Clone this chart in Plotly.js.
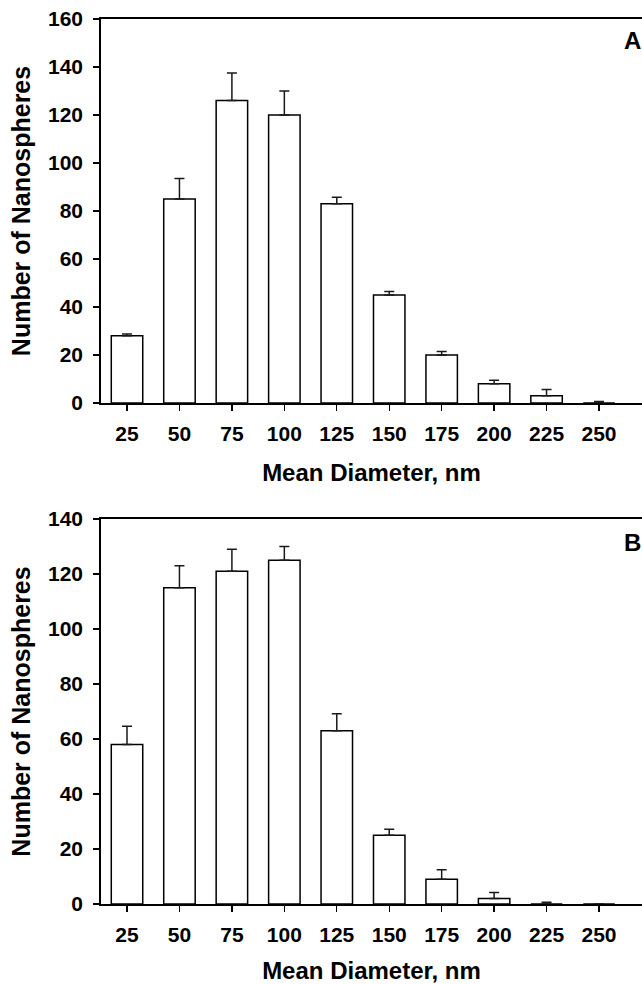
<!DOCTYPE html>
<html>
<head>
<meta charset="utf-8">
<script src="https://cdn.plot.ly/plotly-3.0.1.min.js"></script>
<style>
  html, body { margin: 0; padding: 0; background: #fff; }
  #chart { width: 642px; height: 984px; }
</style>
</head>
<body>
<div id="chart"></div>
<script>
// Data
const diameters = [25, 50, 75, 100, 125, 150, 175, 200, 225, 250];
const tickLabels = ["25", "50", "75", "100", "125", "150", "175", "200", "225", "250"];
const countsA = [28, 85, 126, 120, 83, 45, 20, 8, 3, 0];
const errorsA = [0.8, 8.5, 11.5, 10, 2.7, 1.5, 1.5, 1.5, 2.6, 0.6];
const countsB = [58, 115, 121, 125, 63, 25, 9, 2, 0, 0];
const errorsB = [6.6, 8, 8, 5, 6.2, 2.2, 3.5, 2.2, 0.6, 0];

const FONT = "Liberation Sans, Arial, Helvetica, sans-serif";
const zeros = diameters.map(() => 0);

function barTrace(y, err, xa, ya) {
  return {
    type: "bar",
    x: diameters,
    y: y,
    width: 15,
    xaxis: xa,
    yaxis: ya,
    marker: { color: "#ffffff", line: { color: "#000000", width: 1.5 } },
    error_y: {
      type: "data",
      symmetric: false,
      array: err,
      arrayminus: zeros,
      color: "#1a1a1a",
      thickness: 1.5,
      width: 5
    },
    showlegend: false,
    hoverinfo: "x+y"
  };
}

const data = [
  barTrace(countsA, errorsA, "x", "y"),
  barTrace(countsB, errorsB, "x2", "y2")
];

function xAxis(domainAnchor) {
  return {
    anchor: domainAnchor,
    range: [12.6, 270.5],
    tickmode: "array",
    tickvals: diameters,
    ticktext: tickLabels,
    ticks: "outside",
    ticklen: 6,
    tickwidth: 1.4,
    tickcolor: "#000",
    showline: true,
    linecolor: "#000",
    linewidth: 1.8,
    mirror: true,
    showgrid: false,
    zeroline: false,
    tickfont: { family: FONT, size: 21, color: "#000", weight: "bold" },
    ticklabelstandoff: 5,
    title: {
      text: "<b>Mean Diameter, nm</b>",
      font: { family: FONT, size: 24, color: "#000" },
      standoff: 20
    },
    fixedrange: true
  };
}

function yAxis(domain, maxVal, anchor) {
  return {
    anchor: anchor,
    domain: domain,
    range: [0, maxVal],
    dtick: 20,
    tick0: 0,
    ticks: "outside",
    ticklen: 6,
    tickwidth: 1.4,
    tickcolor: "#000",
    showline: true,
    linecolor: "#000",
    linewidth: 1.8,
    mirror: false,
    showgrid: false,
    zeroline: false,
    tickfont: { family: FONT, size: 21, color: "#000", weight: "bold" },
    ticklabelstandoff: 6,
    title: {
      text: "<b>Number of Nanospheres</b>",
      font: { family: FONT, size: 25, color: "#000" },
      standoff: 10
    },
    fixedrange: true
  };
}

const H = 984;
const layout = {
  width: 642,
  height: 984,
  margin: { l: 101, r: 0, t: 0, b: 0 },
  paper_bgcolor: "#ffffff",
  plot_bgcolor: "#ffffff",
  font: { family: FONT, color: "#000" },
  xaxis: xAxis("y"),
  yaxis: yAxis([1 - 403 / H, 1 - 19 / H], 160, "x"),
  xaxis2: xAxis("y2"),
  yaxis2: yAxis([1 - 904 / H, 1 - 519 / H], 140, "x2"),
  annotations: [
    {
      text: "<b>A</b>", xref: "paper", yref: "paper",
      x: 0.982, y: 1 - 41 / H, xanchor: "center", yanchor: "middle",
      showarrow: false, font: { family: FONT, size: 24, color: "#000" }
    },
    {
      text: "<b>B</b>", xref: "paper", yref: "paper",
      x: 0.982, y: 1 - 542 / H, xanchor: "center", yanchor: "middle",
      showarrow: false, font: { family: FONT, size: 24, color: "#000" }
    }
  ]
};

Plotly.newPlot("chart", data, layout, { displayModeBar: false, staticPlot: true });
</script>
</body>
</html>
